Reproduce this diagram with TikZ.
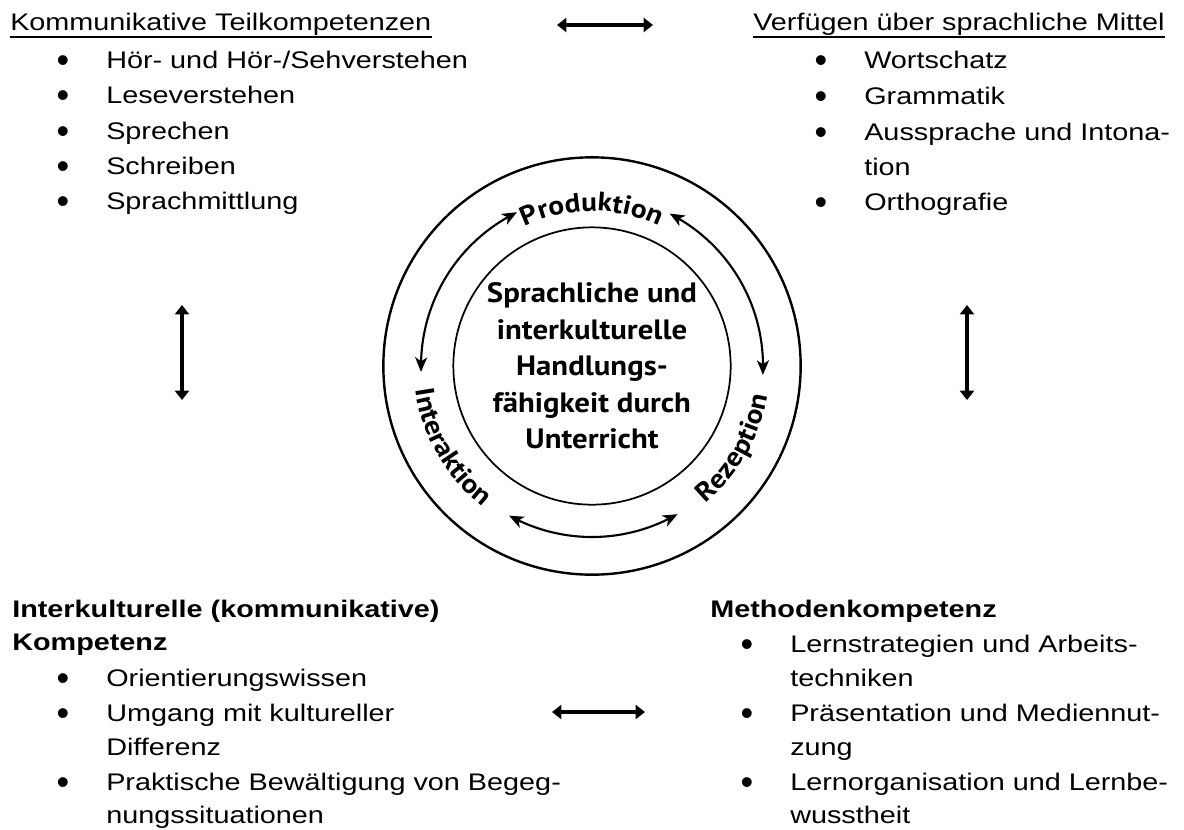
\documentclass[tikz,border=0pt]{standalone}
\usepackage{fontspec}
\setmainfont{Liberation Sans}
\newfontfamily\widefont[FakeStretch=1.2]{Liberation Sans}
\newfontfamily\plainfont{Liberation Sans}
\newfontfamily\ptbfont{PT Sans}
\newfontfamily\ptwfont[FakeStretch=1.1]{PT Sans}
\usetikzlibrary{arrows.meta,bending,decorations.text}
\newcommand\circlab{\ptwfont\bfseries\fontsize{20}{21}\selectfont}
\begin{document}
\begin{tikzpicture}[x=0.75pt,y=0.75pt,
  wtxt/.style={anchor=base west, inner sep=0pt, font=\widefont\fontsize{18}{20}\selectfont},
  wbold/.style={wtxt, font=\widefont\bfseries\fontsize{18}{20}\selectfont},
  bul/.style={anchor=base, inner sep=0pt, yshift=-3pt, font=\plainfont\fontsize{27}{27}\selectfont},
  uline/.style={line width=1.4pt},
  bigarrow/.style={line width=3.4pt, {Triangle[width=10.5pt,length=7pt]}-{Triangle[width=10.5pt,length=7pt]}},
  thinarrow/.style={line width=1.6pt, {Stealth[length=11pt,width=9pt,inset=3pt,bend]}-{Stealth[length=11pt,width=9pt,inset=3pt,bend]}},
  ring/.style={draw, circle, inner sep=0pt}
]
\useasboundingbox (0,0) rectangle (1184,-829);

% ---------- top left ----------
\node[wtxt] (tl) at (10,-30) {Kommunikative Teilkompetenzen};
\draw[uline] ([yshift=-5.2pt]tl.base west) -- ([yshift=-5.2pt]tl.base east);
\node[bul] (tlb1) at (63,-68) {•};  \node[wtxt] (tl1) at (106,-68) {Hör- und Hör-/Sehverstehen};
\node[bul] (tlb2) at (63,-103) {•}; \node[wtxt] (tl2) at (106,-103) {Leseverstehen};
\node[bul] (tlb3) at (63,-139) {•}; \node[wtxt] (tl3) at (106,-139) {Sprechen};
\node[bul] (tlb4) at (63,-174) {•}; \node[wtxt] (tl4) at (106,-174) {Schreiben};
\node[bul] (tlb5) at (63,-209) {•}; \node[wtxt] (tl5) at (106,-209) {Sprachmittlung};

% ---------- top right ----------
\node[wtxt] (tr) at (753,-30) {Verfügen über sprachliche Mittel};
\draw[uline] ([yshift=-5.2pt]tr.base west) -- ([yshift=-5.2pt]tr.base east);
\node[bul] (trb1) at (821,-68) {•};  \node[wtxt] (tr1) at (864,-68) {Wortschatz};
\node[bul] (trb2) at (821,-104) {•}; \node[wtxt] (tr2) at (864,-104) {Grammatik};
\node[bul] (trb3) at (821,-140) {•}; \node[wtxt] (tr3) at (864,-140) {Aussprache und Intona-};
\node[wtxt] (tr4) at (864,-175) {tion};
\node[bul] (trb5) at (821,-210) {•}; \node[wtxt] (tr5) at (864,-210) {Orthografie};

% ---------- bottom left ----------
\node[wbold] (bl) at (12,-617) {Interkulturelle (kommunikative)};
\node[wbold] (bl0) at (12,-650) {Kompetenz};
\node[bul] (blb1) at (63,-686) {•}; \node[wtxt] (bl1) at (106,-686) {Orientierungswissen};
\node[bul] (blb2) at (63,-721) {•}; \node[wtxt] (bl2) at (106,-721) {Umgang mit kultureller};
\node[wtxt] (bl3) at (106,-755) {Differenz};
\node[bul] (blb4) at (63,-790) {•}; \node[wtxt] (bl4) at (106,-790) {Praktische Bewältigung von Begeg-};
\node[wtxt] (bl5) at (106,-823) {nungssituationen};

% ---------- bottom right ----------
\node[wbold] (br) at (710,-617) {Methodenkompetenz};
\node[bul] (brb1) at (747,-652) {•}; \node[wtxt] (br1) at (790,-652) {Lernstrategien und Arbeits-};
\node[wtxt] (br2) at (790,-686) {techniken};
\node[bul] (brb3) at (747,-721) {•}; \node[wtxt] (br3) at (790,-721) {Präsentation und Mediennut-};
\node[wtxt] (br4) at (790,-755) {zung};
\node[bul] (brb5) at (747,-790) {•}; \node[wtxt] (br5) at (790,-790) {Lernorganisation und Lernbe-};
\node[wtxt] (br6) at (790,-823) {wusstheit};

% ---------- block arrows ----------
\coordinate (ha1) at (557,-25); \coordinate (ha2) at (653,-25);
\draw[bigarrow] (ha1) -- (ha2);
\coordinate (hb1) at (552,-712); \coordinate (hb2) at (645,-712);
\draw[bigarrow] (hb1) -- (hb2);
\coordinate (va1) at (182,-305); \coordinate (va2) at (182,-400);
\draw[bigarrow] (va1) -- (va2);
\coordinate (vb1) at (967,-305); \coordinate (vb2) at (967,-400);
\draw[bigarrow] (vb1) -- (vb2);

% ---------- circle ----------
\coordinate (C) at (592,-366);
\node[ring, line width=1.8pt, minimum size=313pt] (outer) at (C) {};
\node[ring, line width=1.3pt, minimum size=208pt, align=center,
      font=\ptwfont\bfseries\fontsize{21}{27.4}\selectfont] (inner) at (C)
      {Sprachliche und\\interkulturelle\\Handlungs-\\fähigkeit durch\\Unterricht};

\draw[thinarrow] ([shift={(116:171)}]C) arc[start angle=116, end angle=182, radius=171];
\draw[thinarrow] ([shift={(63:171)}]C) arc[start angle=63, end angle=-3, radius=171];
\draw[thinarrow] ([shift={(241:171)}]C) arc[start angle=241, end angle=300, radius=171];

\path[decorate, decoration={text along path, text align=center, text={|\circlab|Produktion}}]
  ([shift={(125:155)}]C) arc[start angle=125, end angle=55, radius=155];
\path[decorate, decoration={text along path, text align=center, text={|\circlab|Interaktion}}]
  ([shift={(180:178)}]C) arc[start angle=180, end angle=240, radius=178];
\path[decorate, decoration={text along path, text align=center, text={|\circlab|Rezeption}}]
  ([shift={(300:178)}]C) arc[start angle=300, end angle=360, radius=178];
\end{tikzpicture}
\end{document}
